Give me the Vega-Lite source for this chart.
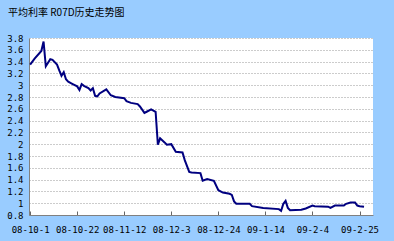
{
  "$schema": "https://vega.github.io/schema/vega-lite/v6.json",
  "width": 344,
  "height": 177,
  "autosize": {"type": "none"},
  "padding": {"left": 29, "top": 38, "right": 21, "bottom": 26},
  "background": "#99CCFF",
  "title": {
    "text": "平均利率 R07D历史走势图",
    "anchor": "start",
    "frame": "group",
    "dx": -21,
    "offset": 16,
    "font": "Noto Sans CJK SC",
    "fontSize": 10,
    "fontWeight": "normal",
    "color": "#000000"
  },
  "config": {
    "view": {"fill": "#FFFFFF", "stroke": null},
    "axis": {
      "labelFont": "DejaVu Sans Mono",
      "labelFontSize": 9,
      "labelColor": "#000000",
      "domainColor": "#808080",
      "domainWidth": 1,
      "title": null
    }
  },
  "data": {
    "values": [
      {"date": "2008-10-01", "rate": 3.35},
      {"date": "2008-10-03", "rate": 3.45},
      {"date": "2008-10-06", "rate": 3.58},
      {"date": "2008-10-07", "rate": 3.74},
      {"date": "2008-10-08", "rate": 3.32},
      {"date": "2008-10-10", "rate": 3.44},
      {"date": "2008-10-11", "rate": 3.43},
      {"date": "2008-10-13", "rate": 3.35},
      {"date": "2008-10-14", "rate": 3.25},
      {"date": "2008-10-15", "rate": 3.16},
      {"date": "2008-10-16", "rate": 3.22},
      {"date": "2008-10-17", "rate": 3.1},
      {"date": "2008-10-18", "rate": 3.06},
      {"date": "2008-10-20", "rate": 3.02},
      {"date": "2008-10-22", "rate": 2.98},
      {"date": "2008-10-23", "rate": 2.92},
      {"date": "2008-10-24", "rate": 3.02},
      {"date": "2008-10-25", "rate": 2.99},
      {"date": "2008-10-27", "rate": 2.95},
      {"date": "2008-10-28", "rate": 2.91},
      {"date": "2008-10-29", "rate": 2.95},
      {"date": "2008-10-30", "rate": 2.82},
      {"date": "2008-10-31", "rate": 2.81},
      {"date": "2008-11-01", "rate": 2.86},
      {"date": "2008-11-04", "rate": 2.93},
      {"date": "2008-11-06", "rate": 2.83},
      {"date": "2008-11-08", "rate": 2.8},
      {"date": "2008-11-12", "rate": 2.78},
      {"date": "2008-11-13", "rate": 2.73},
      {"date": "2008-11-15", "rate": 2.7},
      {"date": "2008-11-18", "rate": 2.68},
      {"date": "2008-11-19", "rate": 2.64},
      {"date": "2008-11-21", "rate": 2.53},
      {"date": "2008-11-22", "rate": 2.55},
      {"date": "2008-11-24", "rate": 2.59},
      {"date": "2008-11-26", "rate": 2.55},
      {"date": "2008-11-27", "rate": 1.99},
      {"date": "2008-11-28", "rate": 2.1},
      {"date": "2008-11-30", "rate": 2.03},
      {"date": "2008-12-01", "rate": 1.99},
      {"date": "2008-12-03", "rate": 2.0},
      {"date": "2008-12-05", "rate": 1.87},
      {"date": "2008-12-08", "rate": 1.86},
      {"date": "2008-12-09", "rate": 1.73},
      {"date": "2008-12-11", "rate": 1.53},
      {"date": "2008-12-12", "rate": 1.52},
      {"date": "2008-12-16", "rate": 1.51},
      {"date": "2008-12-17", "rate": 1.38},
      {"date": "2008-12-19", "rate": 1.41},
      {"date": "2008-12-22", "rate": 1.38},
      {"date": "2008-12-24", "rate": 1.22},
      {"date": "2008-12-26", "rate": 1.18},
      {"date": "2008-12-29", "rate": 1.16},
      {"date": "2008-12-30", "rate": 1.14},
      {"date": "2008-12-31", "rate": 1.03},
      {"date": "2009-01-01", "rate": 0.99},
      {"date": "2009-01-07", "rate": 0.99},
      {"date": "2009-01-08", "rate": 0.95},
      {"date": "2009-01-13", "rate": 0.92},
      {"date": "2009-01-20", "rate": 0.9},
      {"date": "2009-01-21", "rate": 0.87},
      {"date": "2009-01-22", "rate": 0.99},
      {"date": "2009-01-23", "rate": 1.04},
      {"date": "2009-01-24", "rate": 0.92},
      {"date": "2009-01-25", "rate": 0.88},
      {"date": "2009-01-30", "rate": 0.89},
      {"date": "2009-02-01", "rate": 0.91},
      {"date": "2009-02-04", "rate": 0.96},
      {"date": "2009-02-05", "rate": 0.95},
      {"date": "2009-02-11", "rate": 0.94},
      {"date": "2009-02-12", "rate": 0.92},
      {"date": "2009-02-14", "rate": 0.96},
      {"date": "2009-02-18", "rate": 0.96},
      {"date": "2009-02-19", "rate": 0.99},
      {"date": "2009-02-21", "rate": 1.01},
      {"date": "2009-02-23", "rate": 1.01},
      {"date": "2009-02-24", "rate": 0.96},
      {"date": "2009-02-25", "rate": 0.95},
      {"date": "2009-02-27", "rate": 0.94}
    ]
  },
  "mark": {"type": "line", "color": "#000080", "strokeWidth": 2, "interpolate": "linear"},
  "encoding": {
    "x": {
      "field": "date",
      "type": "temporal",
      "scale": {
        "type": "utc",
        "domain": [
          {"year": 2008, "month": 9, "date": 30, "hours": 12, "utc": true},
          {"year": 2009, "month": 3, "date": 3, "hours": 0, "utc": true}
        ]
      },
      "axis": {
        "values": [
          {"year": 2008, "month": 10, "date": 1, "utc": true},
          {"year": 2008, "month": 10, "date": 22, "utc": true},
          {"year": 2008, "month": 11, "date": 12, "utc": true},
          {"year": 2008, "month": 12, "date": 3, "utc": true},
          {"year": 2008, "month": 12, "date": 24, "utc": true},
          {"year": 2009, "month": 1, "date": 14, "utc": true},
          {"year": 2009, "month": 2, "date": 4, "utc": true},
          {"year": 2009, "month": 2, "date": 25, "utc": true}
        ],
        "labelExpr": "utcFormat(datum.value, '%y-%-m-%-d')",
        "grid": false,
        "ticks": true,
        "tickSize": -4,
        "tickColor": "#666666",
        "labelPadding": 14,
        "labelFlush": false,
        "labelOverlap": false
      }
    },
    "y": {
      "field": "rate",
      "type": "quantitative",
      "scale": {"domain": [0.8, 3.8], "nice": false, "zero": false},
      "axis": {
        "values": [0.8, 1, 1.2, 1.4, 1.6, 1.8, 2, 2.2, 2.4, 2.6, 2.8, 3, 3.2, 3.4, 3.6, 3.8],
        "format": ".2~f",
        "ticks": false,
        "labelPadding": 6,
        "grid": true,
        "gridColor": "#999999",
        "gridDash": [1, 2],
        "gridWidth": 1,
        "labelOverlap": false
      }
    }
  }
}
